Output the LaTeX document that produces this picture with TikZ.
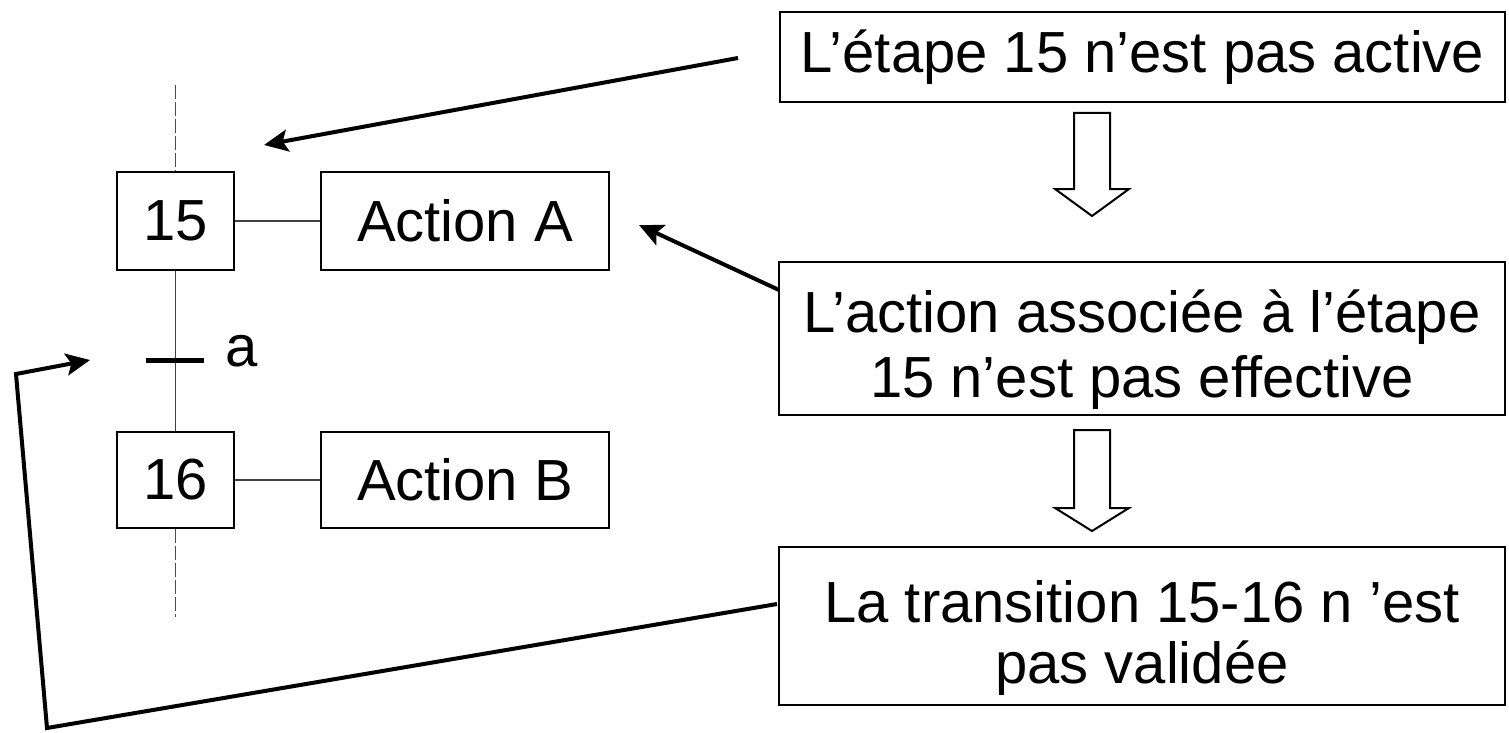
\documentclass[tikz,border=0pt]{standalone}
\usepackage{fontspec}
\setmainfont{Liberation Sans}
\usetikzlibrary{arrows.meta}
\newcommand{\topstrut}{\rule{0pt}{33pt}}
\begin{document}
\begin{tikzpicture}[x=0.5pt,y=-0.5pt,
  box/.style={draw=black,line width=1pt,inner sep=0pt,align=center,font=\fontsize{29}{32.5}\selectfont},
  link/.style={draw=black!75,line width=0.9pt},
  pointer/.style={draw=black,line width=2pt,-{Stealth[length=12pt,width=11pt,inset=2.5pt]}},
  hollow/.style={draw=black,line width=1pt,fill=white,line join=miter}]
\useasboundingbox (0,0) rectangle (1509,733);
\fill[white] (0,0) rectangle (1509,733);

% GRAFCET: steps, actions, transition
\node[box,minimum width=58.5pt,minimum height=49pt] (s15) at (175.5,221) {15};
\node[box,minimum width=144pt,minimum height=49pt] (actA) at (465,221) {Action A};
\node[box,minimum width=58.5pt,minimum height=48pt] (s16) at (175.5,480) {16};
\node[box,minimum width=144pt,minimum height=48pt] (actB) at (465,480) {Action B};

\coordinate (top) at (175.5,85);
\coordinate (bot) at (175.5,617);
\draw[black!70,line width=0.6pt,dash pattern=on 7pt off 1.5pt] (top) -- (s15.north);
\draw[black!70,line width=0.6pt,dash pattern=on 7pt off 1.5pt] (s16.south) -- (bot);
\draw[link] (s15.south) -- (s16.north);
\draw[link] (s15.east) -- (actA.west);
\draw[link] (s16.east) -- (actB.west);

\coordinate (tl) at (146,360);
\coordinate (tr) at (204,360);
\draw[black,line width=2.5pt] (tl) -- (tr);
\node[anchor=base west,inner sep=0pt,font=\fontsize{29}{32.5}\selectfont] (cond) at (225,366) {a};

% Explanations
\node[box,minimum width=362.5pt,minimum height=45pt] (r1) at (1142.5,57) {L’étape 15 n’est pas active};
\node[box,minimum width=363pt,minimum height=76.5pt] (r2) at (1142,338.5) {\topstrut L’action associée à l’étape\\15 n’est pas effective};
\node[box,minimum width=363pt,minimum height=79pt,font=\fontsize{29}{30.5}\selectfont] (r3) at (1142,626) {\topstrut La transition 15-16 n ’est\\pas validée};

% Hollow "implies" arrows
\draw[hollow] (1074,113) -- (1110,113) -- (1110,189) -- (1129,189) -- (1092,216)
  -- (1055,189) -- (1074,189) -- cycle;
\draw[hollow] (1074,430) -- (1110,430) -- (1110,508) -- (1129,508) -- (1092,531)
  -- (1055,508) -- (1074,508) -- cycle;

% Pointers to the diagram
\coordinate (p1s) at (738,58);
\coordinate (p1e) at (264,145);
\draw[pointer] (p1s) -- (p1e);
\coordinate (p2s) at (779,290);
\coordinate (p2e) at (639,225);
\draw[pointer] (p2s) -- (p2e);
\coordinate (p3s) at (777,604);
\coordinate (p3a) at (47,728);
\coordinate (p3b) at (16,374);
\coordinate (p3e) at (90,360);
\draw[pointer,line join=miter] (p3s) -- (p3a) -- (p3b) -- (p3e);
\end{tikzpicture}
\end{document}
